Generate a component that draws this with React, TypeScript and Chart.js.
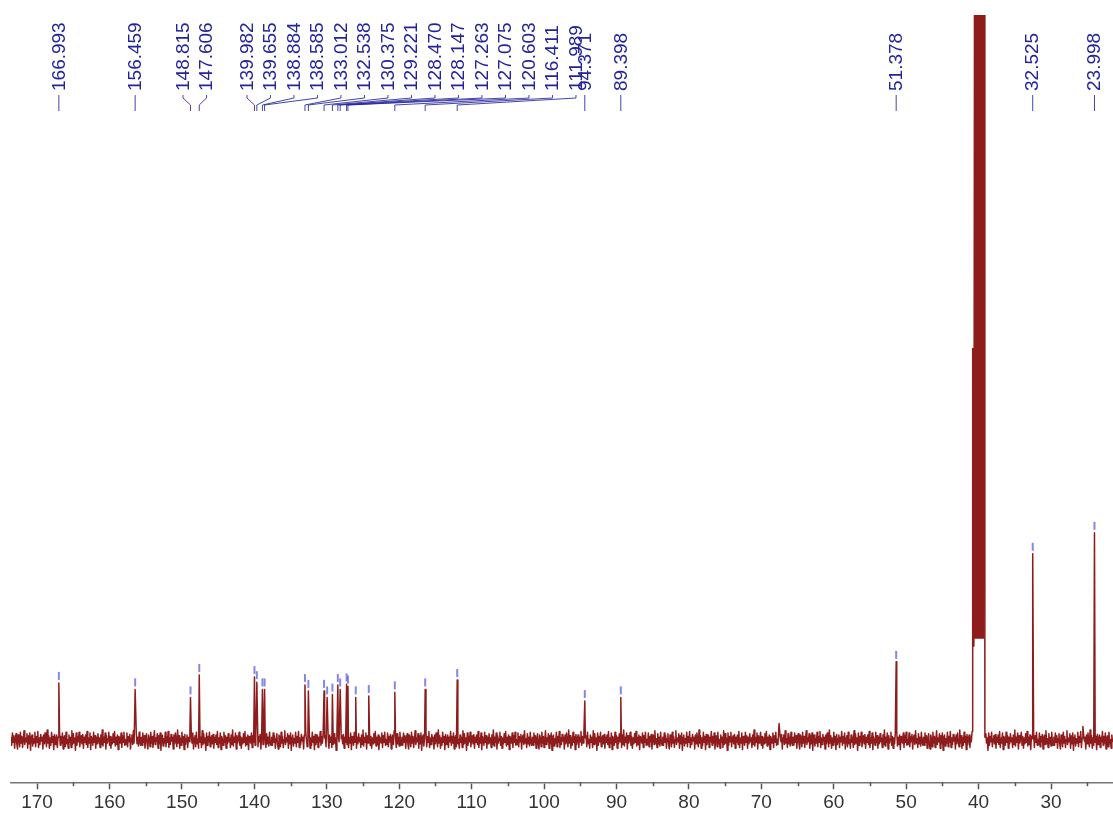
import { useEffect, useRef } from "react";
import { Chart, registerables } from "chart.js";

Chart.register(...registerables);

// 13C chemical shift axis (ppm), drawn high → low
const ppmHigh = 173.6;
const ppmLow = 21.44;
const majorTicks = [170, 160, 150, 140, 130, 120, 110, 100, 90, 80, 70, 60, 50, 40, 30];
const minorTicks = [165, 155, 145, 135, 125, 115, 105, 95, 85, 75, 65, 55, 45, 35, 25];

// Picked and annotated peaks
const labeledPpm = [
  166.993, 156.459, 148.815, 147.606, 139.982, 139.655, 138.884, 138.585, 133.012, 132.538,
  130.375, 129.221, 128.47, 128.147, 127.263, 127.075, 120.603, 116.411, 111.989, 94.371,
  89.398, 51.378, 32.525, 23.998,
];
const labeledHeight = [
  7.9, 7.0, 5.9, 9.0, 8.7, 8.0, 7.0, 7.0, 7.6, 6.8,
  6.8, 6.3, 7.6, 7.0, 7.7, 7.4, 6.6, 7.0, 8.3, 5.4,
  5.9, 10.8, 25.7, 28.6,
];

// Picked peaks whose labels are hidden
const pickedPpm = [129.95, 126.0, 124.2];
const pickedHeight = [5.9, 5.9, 6.1];

// Small unpicked signals
const minorPpm = [67.55, 25.6];
const minorHeight = [2.3, 1.9];

// DMSO-d6 septet (line tops and the minima between neighbouring lines)
const solventPpm = [40.78, 40.52, 40.25, 39.99, 39.73, 39.46, 39.2];
const solventHeight = [54, 150, 320, 400, 320, 150, 110];
const solventValley = [13, 110, 180, 180, 110, 105];
const solventFloor = 14;

// Label groups that are fanned out with leader lines
const labelClusters = [
  ["148.815", "147.606"],
  ["139.982", "139.655", "138.884", "138.585", "133.012", "132.538", "130.375", "129.221",
   "128.470", "128.147", "127.263", "127.075", "120.603", "116.411", "111.989"],
];

// Baseline noise (repeats along the trace)
const baselineNoise = [
  0.4, -0.7, 1.0, -0.3, 0.6, -1.1, 0.2, 0.9, -0.5, -1.2, 0.7, 0.3, -0.9, 1.1, -0.4, 0.5, -1.0, 0.1, 1.3, -0.6,
  0.3, -0.2, 0.9, -1.1, 0.6, -0.5, 1.0, -1.4, 0.4, 0.7, -0.8, 0.2, -0.4, 1.1, -0.9, 0.5, -0.3, 1.2, -1.0, 0.3,
  -0.6, 0.8, -0.1, 0.4, -1.2, 0.7, -0.5, 1.0, 0.0, -0.9, 1.4, -0.4, 0.6, -1.1, 0.3, -0.7, 1.1, -0.3, 0.5, -1.3,
  0.8, -0.6, 0.2, 0.7, -1.0, 0.4, -0.2, 1.2, -0.7, 0.5, -0.4, 1.0, -1.2, 0.3, 0.6, -0.9, 1.1, -0.5, 0.1, -1.1,
  0.7, -0.3, 0.4, -1.0, 1.3, -0.6, 0.9, -0.4, 0.3, -1.4, 1.0, -0.7, 0.5, -0.2, 1.1, -0.9, 0.2, 0.6, -0.5, 0.8,
  -1.1, 0.4, -0.3, 0.7, -0.6, 1.2, -1.0, 0.3, -0.4, 1.0, -1.3, 0.5, 0.1, -0.7, 1.1, -0.3, 0.6, -1.1, 0.4, -0.5,
  0.9, -0.2, 0.3, -1.0, 0.7, -0.6, 1.4, -0.8, 0.4, -0.3, 1.0, -1.2, 0.6, -0.4, 0.2, 1.1, -0.7, 0.5, -1.1, 0.3,
  -0.5, 0.9, -0.3, 1.2, -0.8, 0.4, -0.6, 0.7, -1.3, 0.5, 0.2, -0.4, 1.0, -1.0, 0.6, -0.3, 1.1, -0.7, 0.1, -0.6,
  1.0, -0.9, 0.5, -0.2, 0.8, -1.2, 0.3, 0.7, -0.6, 1.3, -0.4, 0.2, -1.0, 0.9, -0.5, 0.4, -0.8, 1.1, -0.3, -0.7,
];

const TRACE = "#8e1c1c";
const LABEL = "#24249a";

type Pt = { x: number; y: number };

function solventPoints(): Pt[] {
  const pts: Pt[] = [];
  solventPpm.forEach((p, i) => {
    pts.push({ x: p, y: solventHeight[i] });
    if (i < solventValley.length) {
      pts.push({ x: (p + solventPpm[i + 1]) / 2, y: solventValley[i] });
    }
  });
  return pts;
}

function buildTrace(): Pt[] {
  const peaks: Pt[] = [];
  labeledPpm.forEach((p, i) => peaks.push({ x: p, y: labeledHeight[i] }));
  pickedPpm.forEach((p, i) => peaks.push({ x: p, y: pickedHeight[i] }));
  minorPpm.forEach((p, i) => peaks.push({ x: p, y: minorHeight[i] }));

  const pts: Pt[] = [];
  const step = 0.1;
  const solventHi = solventPpm[0] + 0.1;
  const solventLo = solventPpm[solventPpm.length - 1] - 0.1;
  let k = 0;
  for (let x = ppmHigh; x >= ppmLow; x -= step, k++) {
    if (x < solventHi && x > solventLo) continue;
    if (peaks.some((p) => Math.abs(p.x - x) < 0.06)) continue;
    pts.push({ x, y: baselineNoise[k % baselineNoise.length] });
  }
  peaks.forEach((p) => pts.push(p));
  solventPoints().forEach((p) => pts.push(p));
  pts.push({ x: solventHi - 0.03, y: 2.0 });
  pts.push({ x: solventLo + 0.03, y: 0.4 });
  pts.sort((a, b) => b.x - a.x);
  return pts;
}

const spectrumDecor = {
  id: "spectrumDecor",
  afterDatasetsDraw(chart: any) {
    const ctx = chart.ctx as CanvasRenderingContext2D;
    const xs = chart.scales.x;
    const ys = chart.scales.y;
    const area = chart.chartArea;

    // minor ticks
    ctx.save();
    ctx.strokeStyle = "#555";
    ctx.lineWidth = 1.5;
    minorTicks.forEach((v) => {
      const px = Math.round(xs.getPixelForValue(v)) + 0.5;
      ctx.beginPath();
      ctx.moveTo(px, area.bottom);
      ctx.lineTo(px, area.bottom + 4);
      ctx.stroke();
    });
    ctx.restore();

    // peak-pick markers
    ctx.save();
    ctx.strokeStyle = "rgba(95,95,215,0.75)";
    ctx.lineWidth = 2;
    const marks = [
      ...labeledPpm.map((p, i) => [p, labeledHeight[i]]),
      ...pickedPpm.map((p, i) => [p, pickedHeight[i]]),
    ];
    marks.forEach(([p, h]) => {
      const px = xs.getPixelForValue(p);
      const py = ys.getPixelForValue(h);
      ctx.beginPath();
      ctx.moveTo(px, py - 11);
      ctx.lineTo(px, py - 3);
      ctx.stroke();
    });
    ctx.restore();

    // label positions
    const texts = labeledPpm.map((p) => p.toFixed(3));
    const peakPx = labeledPpm.map((p) => xs.getPixelForValue(p));
    const labelPx = peakPx.slice();
    const spacing = 23.5;
    labelClusters.forEach((group) => {
      const idx = group.map((t) => texts.indexOf(t));
      const start = peakPx[idx[0]] - 7.5;
      idx.forEach((j, n) => (labelPx[j] = start + n * spacing));
    });

    ctx.save();
    ctx.strokeStyle = "rgba(36,36,154,0.85)";
    ctx.lineWidth = 1;
    texts.forEach((_, i) => {
      const lx = labelPx[i];
      const px = peakPx[i];
      ctx.beginPath();
      if (Math.abs(lx - px) < 1) {
        ctx.moveTo(px, 95);
        ctx.lineTo(px, 111);
      } else {
        ctx.moveTo(lx, 95);
        ctx.lineTo(lx, 98);
        ctx.lineTo(px, 105);
        ctx.lineTo(px, 111);
      }
      ctx.stroke();
    });
    ctx.fillStyle = LABEL;
    ctx.font = "19px 'Liberation Sans', Arial, sans-serif";
    ctx.textAlign = "left";
    ctx.textBaseline = "middle";
    texts.forEach((t, i) => {
      ctx.save();
      ctx.translate(labelPx[i] + 0.5, 91);
      ctx.rotate(-Math.PI / 2);
      ctx.fillText(t, 0, 0);
      ctx.restore();
    });
    ctx.restore();
  },
};

export default function App() {
  const ref = useRef<HTMLCanvasElement | null>(null);

  useEffect(() => {
    document.body.style.margin = "0";
    document.body.style.overflow = "hidden";
    const canvas = ref.current;
    if (!canvas) return;
    const chart = new Chart(canvas, {
      type: "line",
      data: {
        datasets: [
          {
            data: buildTrace(),
            borderColor: TRACE,
            borderWidth: 1.5,
            borderJoinStyle: "round",
            pointRadius: 0,
            tension: 0,
            fill: false,
            order: 0,
          },
          {
            // dense solvent multiplet rendered as a solid band
            data: solventPoints(),
            borderWidth: 0,
            borderColor: "rgba(0,0,0,0)",
            backgroundColor: TRACE,
            pointRadius: 0,
            tension: 0,
            fill: { value: solventFloor },
            order: 1,
          },
        ],
      },
      options: {
        animation: false,
        responsive: false,
        devicePixelRatio: 1,
        parsing: false,
        layout: { padding: { left: 11, right: 0, top: 15, bottom: 0 } },
        plugins: { legend: { display: false }, tooltip: { enabled: false } },
        scales: {
          x: {
            type: "linear",
            reverse: true,
            min: ppmLow,
            max: ppmHigh,
            afterBuildTicks: (scale: any) => {
              scale.ticks = majorTicks.map((v) => ({ value: v }));
            },
            grid: {
              drawOnChartArea: false,
              drawTicks: true,
              tickLength: 7,
              tickColor: "#555",
              tickWidth: 1.5,
            },
            border: { display: true, color: "#777", width: 1.5 },
            ticks: {
              autoSkip: false,
              maxRotation: 0,
              padding: 2,
              color: "#333",
              font: { family: "'Liberation Sans', Arial, sans-serif", size: 19, lineHeight: 1.25 },
              callback: (v: any) => String(v),
            },
          },
          y: {
            display: false,
            min: -5.8,
            max: 100,
          },
        },
      },
      plugins: [spectrumDecor],
    });
    return () => chart.destroy();
  }, []);

  return (
    <div>
      <canvas ref={ref} width={1113} height={817} style={{ display: "block" }} />
    </div>
  );
}
